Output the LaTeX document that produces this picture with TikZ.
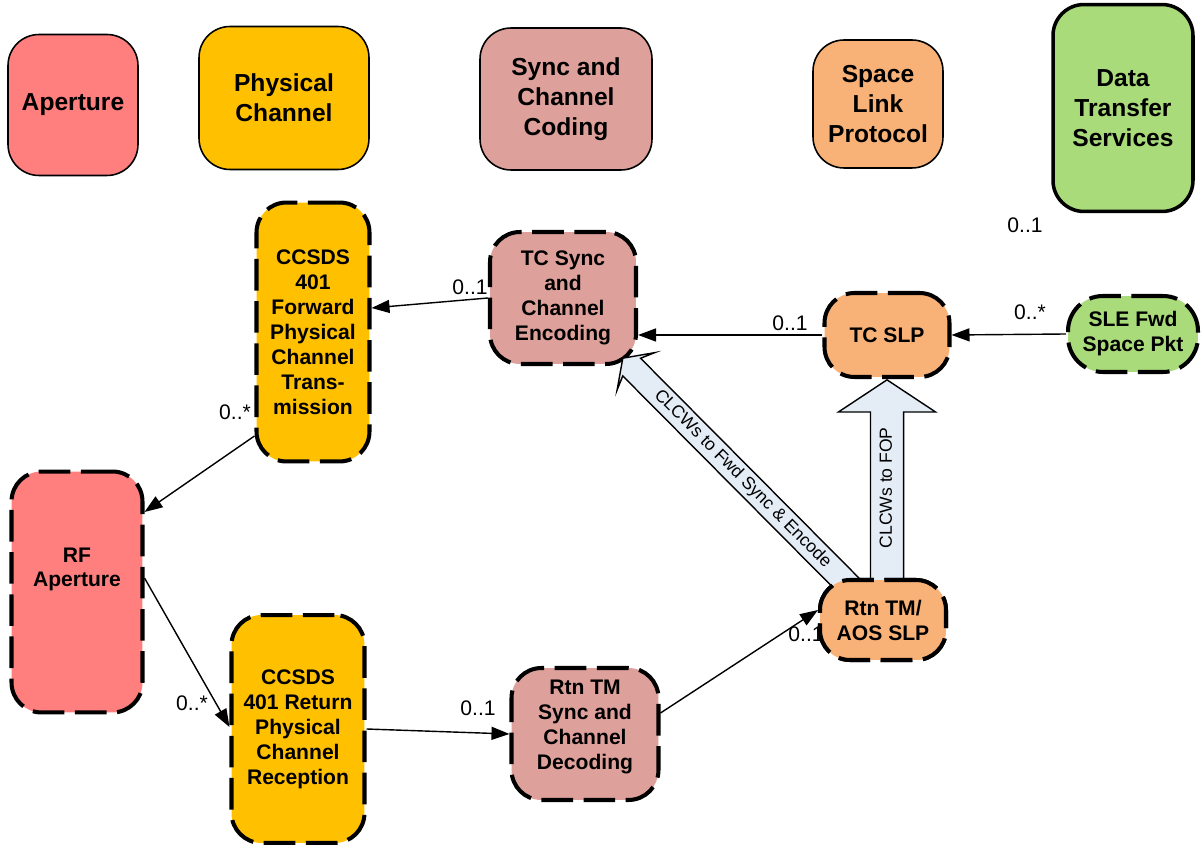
\documentclass[tikz,border=0pt]{standalone}
\usepackage{fontspec}
\setmainfont{Liberation Sans}
\usetikzlibrary{calc,arrows.meta,shapes.arrows,backgrounds}
\definecolor{aperture}{RGB}{255,127,127}
\definecolor{physical}{RGB}{255,192,0}
\definecolor{coding}{RGB}{222,160,155}
\definecolor{slp}{RGB}{248,178,120}
\definecolor{dts}{RGB}{170,219,122}
\definecolor{clcw}{RGB}{228,236,246}

\begin{document}
\begin{tikzpicture}[x=0.02cm, y=-0.02cm, >={Triangle[length=0.36cm, width=0.26cm]},
  legend/.style={draw, line width=0.9pt, rounded corners=0.62cm, align=center, font=\fontsize{14}{17}\selectfont\bfseries},
  part/.style={draw, line width=2.3pt, dash pattern=on 18pt off 6pt, rounded corners=0.6cm, align=center, inner sep=1pt, font=\fontsize{12}{14.2}\selectfont\bfseries},
  link/.style={->, line width=0.8pt},
  mult/.style={font=\fontsize{12}{14}\selectfont},
  clcwarrow/.style={single arrow, draw, fill=clcw, line width=0.8pt, font=\fontsize{10}{12}\selectfont, text height=7.5pt, text depth=2pt, inner xsep=2pt}]
  \useasboundingbox (0,0) rectangle (1201,847);

  % Legend
  \node[legend, fill=aperture, minimum width=2.6cm, minimum height=2.82cm] (aplegend) at (73,105) {Aperture};
  \node[legend, fill=physical, minimum width=3.4cm, minimum height=2.86cm] (pclegend) at (284,98) {Physical\\Channel};
  \node[legend, fill=coding, minimum width=3.44cm, minimum height=2.84cm] (sclegend) at (566,99) {Sync and\\Channel\\Coding};
  \node[legend, fill=slp, minimum width=2.6cm, minimum height=2.56cm] (slplegend) at (878,104) {Space\\Link\\Protocol};
  \node[legend, fill=dts, line width=2pt, minimum width=2.8cm, minimum height=4.14cm] (dtslegend) at (1123,108) {Data\\Transfer\\Services};
  \node[mult] (dtsmult) at (1025,225) {0..1};

  % Forward chain
  \node[part, fill=physical, minimum width=2.26cm, minimum height=5.18cm] (fwdpc) at (313,332) {CCSDS\\401\\Forward\\Physical\\Channel\\Trans-\\mission};
  \node[part, fill=coding, minimum width=2.92cm, minimum height=2.64cm] (tcsync) at (563,298) {TC Sync\\and\\Channel\\Encoding};
  \node[part, fill=slp, minimum width=2.5cm, minimum height=1.68cm] (tcslp) at (887,335) {TC SLP};
  \node[part, fill=dts, minimum width=2.6cm, minimum height=1.52cm, rounded corners=0.7cm] (slefwd) at (1133,334) {SLE Fwd\\Space Pkt};

  % Return chain
  \node[part, fill=aperture, minimum width=2.62cm, minimum height=4.82cm] (rfap) at (77,592) {RF\\Aperture\\[14pt]\mbox{}};
  \node[part, fill=physical, minimum width=2.66cm, minimum height=4.56cm] (rtnpc) at (298,729) {CCSDS\\401 Return\\Physical\\Channel\\Reception};
  \node[part, fill=coding, minimum width=2.94cm, minimum height=2.64cm] (rtnsync) at (585,734) {Rtn TM\\Sync and\\Channel\\Decoding\\[-4pt]\mbox{}};
  \node[part, fill=slp, minimum width=2.52cm, minimum height=1.6cm] (rtnslp) at (883,620) {Rtn TM/\\AOS SLP};

  % Links with multiplicities
  \draw[link] (tcsync.west) -- ($(fwdpc.east)+(0,-24)$);
  \node[mult] (m1) at (470,287) {0..1};
  \draw[link] (tcslp.west) -- (tcslp.west -| tcsync.east);
  \node[mult] (m2) at (790,323) {0..1};
  \draw[link] (slefwd.west) -- (tcslp.east);
  \node[mult] (m3) at (1030,312) {0..*};
  \draw[link] ($(fwdpc.west)+(0,104)$) -- ($(rfap.east)+(0,-80)$);
  \node[mult] (m4) at (235,412) {0..*};
  \draw[link] ($(rfap.east)+(0,-14)$) -- ($(rtnpc.west)+(0,-2)$);
  \node[mult] (m5) at (192,703) {0..*};
  \draw[link] (rtnpc.east) -- (rtnsync.west);
  \node[mult] (m6) at (478,708) {0..1};
  \draw[link] ($(rtnsync.east)+(0,-21)$) -- ($(rtnslp.west)+(0,-10)$);
  \node[mult] (m7) at (806,634) {0..1};

  % CLCW flows
  \begin{pgfonlayer}{background}
    \path let \p1=($(tcslp.south |- rtnslp.north)+(0,6)$), \p2=(tcslp.south), \n1={veclen(\x2-\x1,\y2-\y1)} in
      node[clcwarrow, rotate=90, anchor=tip, minimum height=\n1, inner ysep=0.15cm, single arrow head extend=0.64cm, single arrow tip angle=113] (fop) at (\p2) {CLCWs to FOP};
  \end{pgfonlayer}
  \path let \p1=($(tcsync)!0.915!(rtnslp)$), \p2=($(tcsync)!0.185!(rtnslp)$), \n1={veclen(\x2-\x1,\y2-\y1)}, \n2={atan2(\y1-\y2,\x1-\x2)} in
    node[clcwarrow, rotate=\n2, shape border rotate=180, anchor=tip, minimum height=\n1, inner ysep=0.07cm, single arrow head extend=0.28cm, single arrow tip angle=110, single arrow head indent=0.12cm] (fwdenc) at (\p2) {CLCWs to Fwd Sync \& Encode};
  % redraw the return SLP over the arrow tail
  \node[part, fill=slp, minimum width=2.52cm, minimum height=1.6cm] at (rtnslp) {Rtn TM/\\AOS SLP};
\end{tikzpicture}
\end{document}
